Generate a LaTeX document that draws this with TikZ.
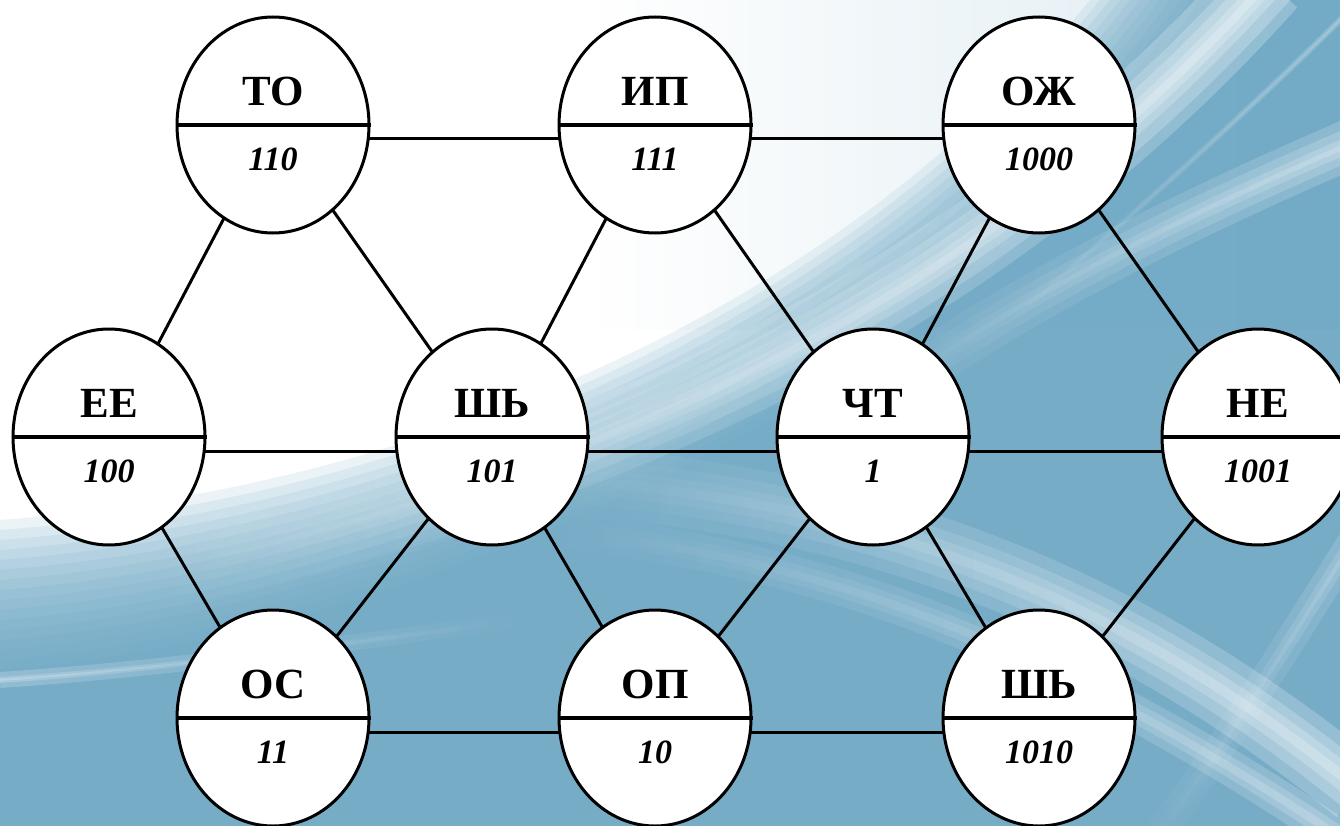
\documentclass[tikz,border=0pt]{standalone}
\usepackage{fontspec}
\setmainfont{Liberation Serif}
\usetikzlibrary{shapes.geometric,calc,fadings}
\pgfdeclarelayer{bg}
\pgfdeclarelayer{edges}
\pgfsetlayers{bg,edges,main}
\definecolor{bluedark}{HTML}{6AA6C4}
\definecolor{bluemid}{HTML}{8EC0D6}
\definecolor{bluelight}{HTML}{DCEBF1}
\tikzset{
  vert/.style={ellipse,draw=black,line width=3pt,fill=white,minimum width=192pt,minimum height=216pt,inner sep=0pt},
  conn/.style={line width=3pt,black},
  divline/.style={line width=3.5pt,black},
  toplbl/.style={font=\fontsize{43}{43}\selectfont\bfseries,inner sep=0pt},
  numlbl/.style={font=\fontsize{34}{34}\selectfont\bfseries\itshape,inner sep=0pt},
  glow/.style={draw=white,opacity=0.2,line cap=butt},
}
\newcommand\vtx[5]{%
  \node[vert] (#1) at (#2,#3) {};
  \draw[divline] (#1.west) -- (#1.east);
  \node[toplbl] (#1t) at ($(#1)+(0,-34)$) {#4};
  \node[numlbl] (#1n) at ($(#1)+(0,34)$) {#5};
}
\begin{document}
\begin{tikzpicture}[x=1pt,y=-1pt]
\useasboundingbox (0,0) rectangle (1340,826);
\begin{pgfonlayer}{bg}
  \fill[white] (0,0) rectangle (1340,826);
  % faint tint in the upper right
  \fill[bluelight,path fading=west] (600,0) rectangle (1340,330);
  % soft gradient from white (upper left) to blue (lower right)
  \foreach \d in {0,10,...,150}
    \fill[bluedark,opacity=0.13] (0,{520+\d}) .. controls (400,{490+\d}) and ({830+\d},{320+\d/2}) .. ({1090+\d},0) -- (1340,0) -- (1340,826) -- (0,826) -- cycle;
  % bright band along the boundary, rising to the upper right
  \foreach \w in {80,56,36,20,8}
    \draw[glow,opacity=0.24,line width=\w pt,path fading=west] (150,575) .. controls (520,490) and (940,350) .. (1270,-20);
  % second bright arc reaching the right edge
  \foreach \w in {50,32,16,5}
    \draw[glow,line width=\w pt,path fading=west] (860,410) .. controls (1000,310) and (1150,230) .. (1360,140);
  \foreach \w in {6,2}
    \draw[glow,line width=\w pt,path fading=west] (1000,330) .. controls (1150,200) and (1260,100) .. (1350,10);
  % streaky bands to the lower right
  \foreach \w in {70,46,26,10}
    \draw[glow,opacity=0.24,line width=\w pt,path fading=west] (560,480) .. controls (850,500) and (1100,580) .. (1360,790);
  \foreach \w in {36,20,8}
    \draw[glow,line width=\w pt,path fading=west] (560,530) .. controls (800,560) and (1020,620) .. (1360,850);
  \foreach \w in {16,6,2}
    \draw[glow,line width=\w pt,path fading=east] (0,680) .. controls (150,670) and (300,650) .. (520,620);
  \foreach \w in {30,14,4}
    \draw[glow,opacity=0.15,line width=\w pt,path fading=south] (1140,860) .. controls (1230,740) and (1290,640) .. (1360,530);
\end{pgfonlayer}
\vtx{TO}{273}{125}{ТО}{110}
\vtx{IP}{655}{125}{ИП}{111}
\vtx{OZh}{1039}{125}{ОЖ}{1000}
\vtx{EE}{109}{437}{ЕЕ}{100}
\vtx{ShA}{492}{437}{ШЬ}{101}
\vtx{ChT}{873}{437}{ЧТ}{1}
\vtx{NE}{1258}{437}{НЕ}{1001}
\vtx{OS}{273}{718}{ОС}{11}
\vtx{OP}{655}{718}{ОП}{10}
\vtx{ShB}{1039}{718}{ШЬ}{1010}
\begin{pgfonlayer}{edges}
  \foreach \a/\b in {TO/IP, IP/OZh, EE/ShA, ShA/ChT, ChT/NE, OS/OP, OP/ShB}
    \draw[conn] ([yshift=-14pt]\a.center) -- ([yshift=-14pt]\b.center);
  \foreach \a/\b in {TO/EE, TO/ShA, IP/ShA, IP/ChT, OZh/ChT, OZh/NE, EE/OS, ShA/OS, ShA/OP, ChT/OP, ChT/ShB, NE/ShB}
    \draw[conn] (\a.center) -- (\b.center);
\end{pgfonlayer}
\end{tikzpicture}
\end{document}
